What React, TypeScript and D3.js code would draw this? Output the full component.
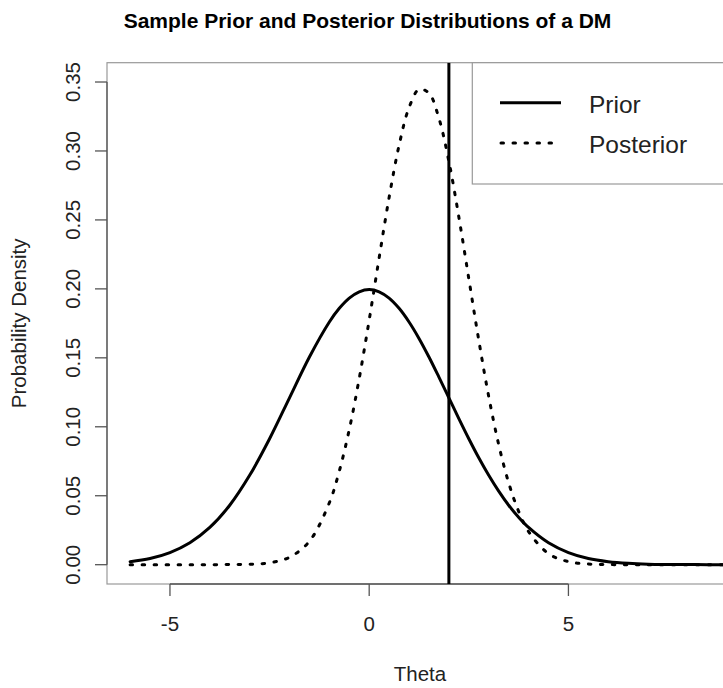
import React from "react";
import * as d3 from "d3";

// Theta grid (x values)
const theta = [
  -6, -5.5, -5, -4.5, -4, -3.5, -3, -2.5, -2, -1.5, -1, -0.75, -0.5, -0.25, 0,
  0.25, 0.5, 0.75, 1, 1.25, 1.5, 1.75, 2, 2.25, 2.5, 2.75, 3, 3.25, 3.5, 3.75,
  4, 4.5, 5, 5.5, 6, 6.5, 7, 7.5, 8, 8.5, 9, 9.5, 10,
];

// Prior density values (solid curve)
const priorDensity = [
  0.0022, 0.0045, 0.0088, 0.0159, 0.027, 0.0431, 0.0648, 0.0913, 0.121, 0.1506,
  0.176, 0.1859, 0.1933, 0.1979, 0.1995, 0.1979, 0.1933, 0.1859, 0.176, 0.1641,
  0.1506, 0.136, 0.121, 0.1059, 0.0913, 0.0775, 0.0648, 0.0533, 0.0431, 0.0344,
  0.027, 0.0159, 0.0088, 0.0045, 0.0022, 0.001, 0.0004, 0.0002, 0.0001, 0.0,
  0.0, 0.0, 0.0,
];

// Posterior density values (dashed curve)
const posteriorDensity = [
  0, 0, 0, 0, 0, 0.0001, 0.0003, 0.0014, 0.0054, 0.017, 0.0449, 0.0679, 0.098,
  0.135, 0.1774, 0.2225, 0.2663, 0.3041, 0.3314, 0.3446, 0.3419, 0.3237,
  0.2925, 0.2521, 0.2074, 0.1628, 0.1219, 0.0871, 0.0594, 0.0387, 0.024,
  0.008, 0.0022, 0.0005, 0.0001, 0, 0, 0, 0, 0, 0, 0, 0,
];

const observedTheta = 2;

const xTicks = [-5, 0, 5];
const yTicks = [0, 0.05, 0.1, 0.15, 0.2, 0.25, 0.3, 0.35];

const legendLabels = ["Prior", "Posterior"];

const titleText = "Sample Prior and Posterior Distributions of a DM";
const xLabel = "Theta";
const yLabel = "Probability Density";

export default function App() {
  const W = 723;
  const H = 688;
  const left = 107;
  const right = 731;
  const top = 62.7;
  const bottom = 584;
  const font = "'Liberation Sans', Arial, Helvetica, sans-serif";
  const axFont = 20.5;

  const x = d3.scaleLinear().domain([-6.58, 9.08]).range([left, right]);
  const y = d3.scaleLinear().domain([-0.014, 0.364]).range([bottom, top]);

  const line = d3
    .line<number>()
    .x((_, i) => x(theta[i]))
    .y((d) => y(d))
    .curve(d3.curveCatmullRom.alpha(0.5));

  const axisColor = "#555";
  const boxColor = "#999";

  return (
    <div style={{ position: "absolute", left: 0, top: 0 }}>
      <svg width={W} height={H} style={{ display: "block", background: "#fff" }}>
        <defs>
          <clipPath id="plotClip">
            <rect x={left} y={top} width={right - left} height={bottom - top} />
          </clipPath>
        </defs>
        <rect x={0} y={0} width={W} height={H} fill="#fff" />
        {/* title */}
        <text
          x={367.5}
          y={28}
          textAnchor="middle"
          fontFamily={font}
          fontWeight="bold"
          fontSize={21}
          fill="#000"
        >
          {titleText}
        </text>

        {/* plot box */}
        <rect
          x={left}
          y={top}
          width={right - left}
          height={bottom - top}
          fill="none"
          stroke={boxColor}
          strokeWidth={1.2}
        />

        {/* x axis */}
        <line
          x1={x(xTicks[0])}
          x2={x(xTicks[xTicks.length - 1])}
          y1={bottom}
          y2={bottom}
          stroke={axisColor}
          strokeWidth={1.3}
        />
        {xTicks.map((t) => (
          <g key={"xt" + t}>
            <line x1={x(t)} x2={x(t)} y1={bottom} y2={bottom + 12} stroke={axisColor} strokeWidth={1.3} />
            <text x={x(t)} y={631} textAnchor="middle" fontFamily={font} fontSize={axFont} fill="#222">
              {t < 0 ? "-" + Math.abs(t) : String(t)}
            </text>
          </g>
        ))}

        {/* y axis */}
        <line
          x1={left}
          x2={left}
          y1={y(yTicks[0])}
          y2={y(yTicks[yTicks.length - 1])}
          stroke={axisColor}
          strokeWidth={1.3}
        />
        {yTicks.map((t) => (
          <g key={"yt" + t}>
            <line x1={left - 12} x2={left} y1={y(t)} y2={y(t)} stroke={axisColor} strokeWidth={1.3} />
            <text
              transform={`translate(80,${y(t)}) rotate(-90)`}
              textAnchor="middle"
              fontFamily={font}
              fontSize={axFont}
              fill="#222"
            >
              {t.toFixed(2)}
            </text>
          </g>
        ))}

        {/* axis labels */}
        <text x={420} y={680.5} textAnchor="middle" fontFamily={font} fontSize={axFont} fill="#222">
          {xLabel}
        </text>
        <text
          transform={`translate(26,${(top + bottom) / 2}) rotate(-90)`}
          textAnchor="middle"
          fontFamily={font}
          fontSize={axFont}
          fill="#222"
        >
          {yLabel}
        </text>

        {/* curves */}
        <g clipPath="url(#plotClip)">
          <path d={line(priorDensity) || ""} fill="none" stroke="#000" strokeWidth={3} strokeLinejoin="round" strokeLinecap="round" />
          <path
            d={line(posteriorDensity) || ""}
            fill="none"
            stroke="#000"
            strokeWidth={3}
            strokeDasharray="2.5 9.5"
            strokeLinecap="round"
            strokeLinejoin="round"
          />
          {/* vertical line at observed theta */}
          <line x1={x(observedTheta)} x2={x(observedTheta)} y1={top} y2={bottom} stroke="#000" strokeWidth={3} />
        </g>

        {/* legend */}
        <rect x={472.3} y={top} width={right - 472.3} height={184 - top} fill="#fff" stroke={boxColor} strokeWidth={1.2} />
        <line x1={500} x2={561} y1={102.7} y2={102.7} stroke="#000" strokeWidth={3} />
        <line x1={501} x2={561} y1={143} y2={143} stroke="#000" strokeWidth={3} strokeDasharray="2.5 9.5" strokeLinecap="round" />
        <text x={589} y={112.5} fontFamily={font} fontSize={24.5} fill="#222">
          {legendLabels[0]}
        </text>
        <text x={589} y={152.5} fontFamily={font} fontSize={24.5} fill="#222">
          {legendLabels[1]}
        </text>
      </svg>
    </div>
  );
}
